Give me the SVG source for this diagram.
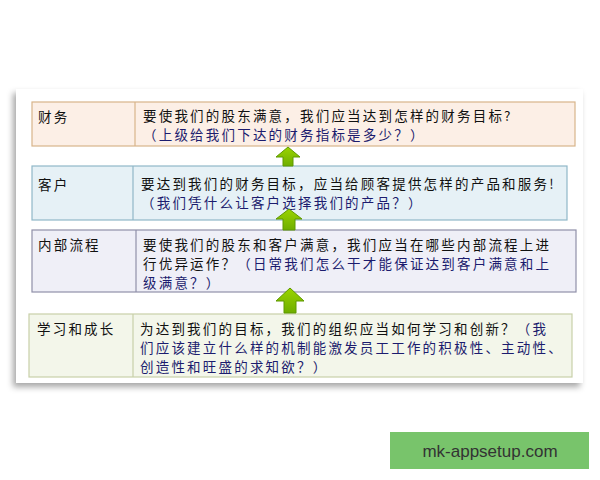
<svg xmlns="http://www.w3.org/2000/svg" width="600" height="480" viewBox="0 0 600 480">
<defs>
<filter id="sh" x="-10%" y="-10%" width="120%" height="125%">
<feDropShadow dx="-3" dy="4" stdDeviation="3" flood-color="#000" flood-opacity="0.35"/>
</filter>
<linearGradient id="ag" x1="0" y1="0" x2="0" y2="1">
<stop offset="0" stop-color="#9ad400"/>
<stop offset="1" stop-color="#6fae00"/>
</linearGradient>
</defs>
<style>
.t{font-family:"Noto Sans CJK SC","Noto Sans",sans-serif;font-size:13.5px;letter-spacing:2.2px;fill:#111;}
.n{fill:#1c1c6e;}
.lab{font-family:"Noto Sans CJK SC","Noto Sans",sans-serif;font-size:13.5px;letter-spacing:2.2px;fill:#111;}
.arr{fill:url(#ag);stroke:#5f9900;stroke-width:1;}
.wm{font-family:"Liberation Sans",Arial,sans-serif;font-size:17px;fill:#333;}
</style>
<rect width="600" height="480" fill="#fff"/>
<rect id="card" x="16" y="89" width="567" height="294" fill="#fff" filter="url(#sh)"/>

<g id="finance">
<rect x="32" y="102" width="543" height="44" fill="#fcefe6" stroke="#d8b48a" stroke-width="1.2"/>
<line x1="135" y1="102" x2="135" y2="146" stroke="#d8b48a" stroke-width="1.2"/>
<text class="lab" x="38" y="122">财务</text>
<text class="t" x="143" y="121">要使我们的股东满意，我们应当达到怎样的财务目标?</text>
<text class="t n" x="143" y="140">（上级给我们下达的财务指标是多少？）</text>
</g>

<g id="customer">
<rect x="32" y="166" width="535" height="54" fill="#e6f1f6" stroke="#90b8c8" stroke-width="1.2"/>
<line x1="133" y1="166" x2="133" y2="220" stroke="#90b8c8" stroke-width="1.2"/>
<text class="lab" x="38" y="190">客户</text>
<text class="t" x="141" y="189">要达到我们的财务目标，应当给顾客提供怎样的产品和服务!</text>
<text class="t n" x="141" y="208">（我们凭什么让客户选择我们的产品？）</text>
</g>

<g id="process">
<rect x="32" y="230" width="544" height="62" fill="#efeff7" stroke="#8f8fa8" stroke-width="1.2"/>
<line x1="136" y1="230" x2="136" y2="292" stroke="#8f8fa8" stroke-width="1.2"/>
<text class="lab" x="38" y="250">内部流程</text>
<text class="t" x="143" y="250">要使我们的股东和客户满意，我们应当在哪些内部流程上进</text>
<text class="t" x="143" y="269">行优异运作？<tspan class="n">（日常我们怎么干才能保证达到客户满意和上</tspan></text>
<text class="t n" x="143" y="288">级满意？）</text>
</g>

<g id="learning">
<rect x="29" y="314" width="543" height="63" fill="#f3f6ea" stroke="#c8d0a8" stroke-width="1.2"/>
<line x1="133" y1="314" x2="133" y2="377" stroke="#c8d0a8" stroke-width="1.2"/>
<text class="lab" x="37" y="334">学习和成长</text>
<text class="t" x="140" y="334">为达到我们的目标，我们的组织应当如何学习和创新？<tspan class="n">（我</tspan></text>
<text class="t n" x="140" y="353">们应该建立什么样的机制能激发员工工作的积极性、主动性、</text>
<text class="t n" x="140" y="372">创造性和旺盛的求知欲？）</text>
</g>

<g id="connectors">
<polygon class="arr" points="288,147 300,157 293,157 293,166 283,166 283,157 276,157"/>
<polygon class="arr" points="289,209 302,219 295,219 295,230 283,230 283,219 276,219"/>
<polygon class="arr" points="290,288 304,301 296,301 296,313 284,313 284,301 276,301"/>
</g>

<g id="watermark">
<rect x="390" y="432" width="199" height="37" fill="#78c46b"/>
<text class="wm" x="490" y="457" text-anchor="middle">mk-appsetup.com</text>
</g>
</svg>
